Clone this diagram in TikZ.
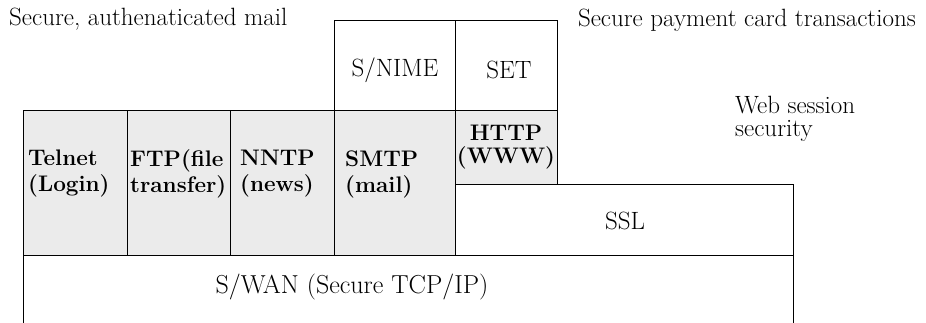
\documentclass[tikz,border=0pt]{standalone}
\usepackage{fontspec}
\begin{document}
\begin{tikzpicture}[x=1pt,y=-1pt,
  layer/.style={draw=black,line width=0.8pt},
  stipple/.style={layer,fill=black!8},
  txt/.style={font=\fontsize{25}{28}\selectfont,inner sep=0pt},
  btxt/.style={font=\fontsize{22.5}{26}\selectfont\bfseries,inner sep=0pt,align=left},
  note/.style={font=\fontsize{25}{23}\selectfont,inner sep=0pt,align=left}]
\useasboundingbox (0,0) rectangle (926,323);
% upper application boxes
\draw[layer] (334,20) rectangle (455,110);
\draw[layer] (455,20) rectangle (557,110);
% stippled application row
\draw[stipple] (23,110) rectangle (127,255);
\draw[stipple] (127,110) rectangle (230,255);
\draw[stipple] (230,110) rectangle (334,255);
\draw[stipple] (334,110) rectangle (455,255);
\draw[stipple] (455,110) rectangle (557,184);
% SSL layer
\draw[layer,fill=white] (455,184) rectangle (793,255);
% S/WAN layer, open at the bottom
\draw[layer] (23,323) -- (23,255) -- (793,255) -- (793,323);
% texts
\node[txt] (snime) at (395,70) {S/NIME};
\node[txt] (set) at (509,70) {SET};
\node[btxt,anchor=west] (telnet) at (28,174) {Telnet\\(Login)};
\node[btxt,anchor=west] (ftp) at (130,174) {FTP(file\\transfer)};
\node[btxt,anchor=west] (nntp) at (240,174) {NNTP\\(news)};
\node[btxt,anchor=west] (smtp) at (345,174) {SMTP\\(mail)};
\node[btxt,align=center,font=\fontsize{22.5}{23}\selectfont\bfseries] (http) at (506,147) {HTTP\\(WWW)};
\node[txt] (ssl) at (625,221) {SSL};
\node[txt,font=\fontsize{26}{28}\selectfont] (swan) at (352,287) {S/WAN (Secure TCP/IP)};
\node[note,anchor=west] (mail) at (9,19) {Secure, authenaticated mail};
\node[note,anchor=east] (pay) at (916,20) {Secure payment card transactions};
\node[note,anchor=west] (web) at (735,119) {Web session\\security};
\end{tikzpicture}
\end{document}
